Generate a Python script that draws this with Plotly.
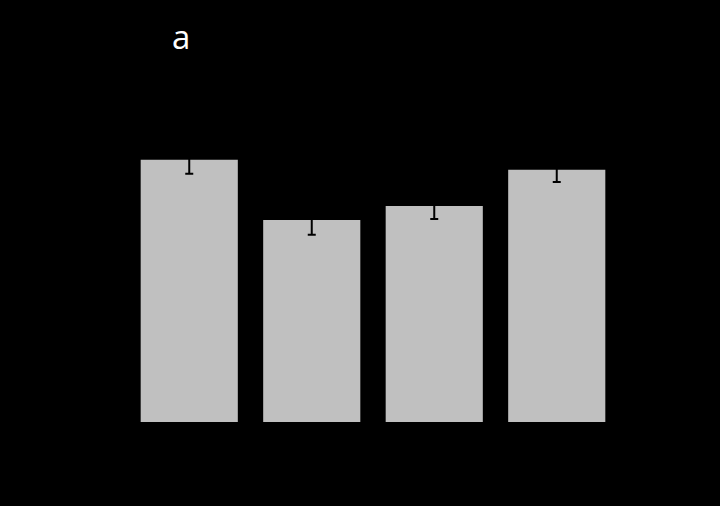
import plotly.graph_objects as go

# Four groups, mean values with standard errors
categories = ["A", "B", "C", "D"]
means = [1.00, 0.771, 0.824, 0.962]
errors = [0.053, 0.057, 0.050, 0.046]

fig = go.Figure(
    go.Bar(
        x=categories,
        y=means,
        marker=dict(color="#c0c0c0", line=dict(width=0)),
        width=0.793,
        error_y=dict(type="data", array=errors, visible=True,
                     color="#000000", thickness=2, width=4),
    )
)

fig.update_layout(
    width=720,
    height=506,
    margin=dict(l=128, r=102, t=55, b=84),
    paper_bgcolor="#000000",
    plot_bgcolor="#000000",
    showlegend=False,
    xaxis=dict(range=[-0.5, 3.5], showgrid=False, zeroline=False,
               showticklabels=False, showline=False, ticks=""),
    yaxis=dict(range=[0, 1.4], showgrid=False, zeroline=False,
               showticklabels=False, showline=False, ticks=""),
    annotations=[
        dict(text="a", xref="paper", yref="paper",
             x=(181 - 128) / 490, y=(506 - 84 - 36) / 367,
             xanchor="center", yanchor="middle", showarrow=False,
             font=dict(family="Open Sans, Liberation Sans, Arial", size=33, color="#ffffff"))
    ],
)

fig.write_html("out.html")
